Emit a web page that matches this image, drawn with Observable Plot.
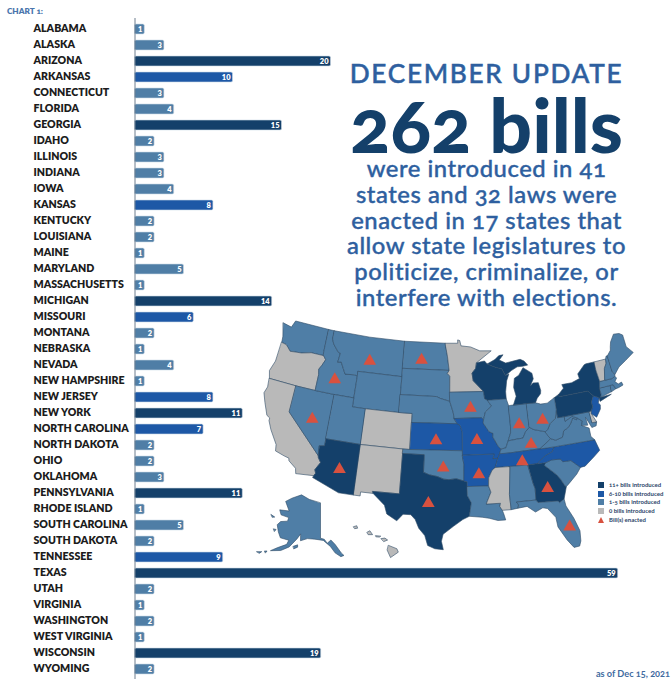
<!DOCTYPE html>
<html>
<head>
<meta charset="utf-8">
<script src="https://cdn.jsdelivr.net/npm/d3@7"></script>
<script src="https://cdn.jsdelivr.net/npm/@observablehq/plot@0.6"></script>
<style>
  html,body{margin:0;padding:0;background:#fff;}
  #page{position:relative;width:671px;height:679px;overflow:hidden;font-family:Lato,"Open Sans",sans-serif;}
  #page svg{position:absolute;background:transparent;font-family:inherit;}
  .t{position:absolute;white-space:nowrap;font-feature-settings:"onum" 1;}
  .c{left:486.5px;transform:translateX(-50%);}
</style>
</head>
<body>
<div id="page"></div>
<script>
const stateNames = ["ALABAMA","ALASKA","ARIZONA","ARKANSAS","CONNECTICUT","FLORIDA","GEORGIA","IDAHO","ILLINOIS","INDIANA","IOWA","KANSAS","KENTUCKY","LOUISIANA","MAINE","MARYLAND","MASSACHUSETTS","MICHIGAN","MISSOURI","MONTANA","NEBRASKA","NEVADA","NEW HAMPSHIRE","NEW JERSEY","NEW YORK","NORTH CAROLINA","NORTH DAKOTA","OHIO","OKLAHOMA","PENNSYLVANIA","RHODE ISLAND","SOUTH CAROLINA","SOUTH DAKOTA","TENNESSEE","TEXAS","UTAH","VIRGINIA","WASHINGTON","WEST VIRGINIA","WISCONSIN","WYOMING"];
const stateCodes = ["AL","AK","AZ","AR","CT","FL","GA","ID","IL","IN","IA","KS","KY","LA","ME","MD","MA","MI","MO","MT","NE","NV","NH","NJ","NY","NC","ND","OH","OK","PA","RI","SC","SD","TN","TX","UT","VA","WA","WV","WI","WY"];
const billCounts = [1,3,20,10,3,4,15,2,3,3,4,8,2,2,1,5,1,14,6,2,1,4,1,8,11,7,2,2,3,11,1,5,2,9,59,2,1,2,1,19,2];
// The source cuts the Texas bar short of scale; the label keeps the true 59.
const barCutOff = 49.3;
const tierBreaks = [1,6,11];
const tierColors = ["#b9b9b9","#4f7ea6","#1d58a6","#14406a"];
const legendLabels = ["11+ bills introduced","6-10 bills introduced","1-5 bills introduced","0 bills introduced","Bill(s) enacted"];
const legendColors = ["#14406a","#1d58a6","#4f7ea6","#b9b9b9"];
const enactedCodes = ["AZ","AR","FL","GA","ID","IA","IN","KS","KY","MO","MT","NV","ND","OH","OK","TN","TX"];
const enactedLon = [-111.5,-92.4,-81.2,-83.3,-114.5,-93.3,-86.2,-98.4,-84.8,-92.5,-109.5,-116.6,-101.1,-82.7,-97.3,-86.3,-99.2];
const enactedLat = [34.2,34.6,27.8,32.4,43.9,42,39.8,38.4,37.5,38.4,46.6,39.1,47.3,40,35.4,35.7,31.4];
const bodyLines = ["were introduced in 41","states and 32 laws were","enacted in 17 states that","allow state legislatures to","politicize, criminalize, or","interfere with elections."];

const outlines = {
WA:[[[-124.7,48.4],[-123.2,48.2],[-122.8,49],[-117.03,49],[-117.04,46.42],[-117,46],[-118.98,46],[-119.3,45.93],[-120.5,45.7],[-121.2,45.65],[-122.3,45.55],[-122.8,45.9],[-123.2,46.15],[-124,46.25],[-124.1,46.9]]],
OR:[[[-124,46.25],[-123.2,46.15],[-122.8,45.9],[-122.3,45.55],[-121.2,45.65],[-120.5,45.7],[-119.3,45.93],[-118.98,46],[-117,46],[-116.9,46],[-116.46,45.6],[-116.85,44.9],[-117.2,44.4],[-117.03,43.8],[-117.03,42],[-120,42],[-124.2,42],[-124.55,42.84],[-124.1,44]]],
CA:[[[-124.2,42],[-120,42],[-120,39],[-114.63,35],[-114.57,34.8],[-114.14,34.3],[-114.72,33.4],[-114.52,33.03],[-114.72,32.72],[-117.12,32.53],[-117.3,33.1],[-118.4,33.75],[-118.5,34.03],[-119.2,34.15],[-120.5,34.45],[-120.65,35.15],[-121.9,36.6],[-122.5,37.5],[-122.5,37.8],[-123,38],[-123.8,39.3],[-124.35,40.3],[-124.1,41]]],
NV:[[[-120,42],[-117.03,42],[-114.04,42],[-114.04,37],[-114.04,36.2],[-114.74,36.1],[-114.63,35],[-120,39]]],
ID:[[[-117.03,49],[-116.05,49],[-116.05,48],[-115.7,47.5],[-114.7,46.7],[-114.35,46.65],[-114.5,45.6],[-113.95,45.7],[-113.45,45.05],[-113,44.45],[-111.5,44.55],[-111.05,44.48],[-111.05,42],[-114.04,42],[-117.03,42],[-117.03,43.8],[-117.2,44.4],[-116.85,44.9],[-116.46,45.6],[-116.9,46],[-117,46],[-117.04,46.42]]],
MT:[[[-116.05,49],[-110,49],[-104.05,49],[-104.05,45.94],[-104.05,45],[-111.05,45],[-111.05,44.48],[-111.5,44.55],[-113,44.45],[-113.45,45.05],[-113.95,45.7],[-114.5,45.6],[-114.35,46.65],[-114.7,46.7],[-115.7,47.5],[-116.05,48]]],
WY:[[[-111.05,45],[-104.05,45],[-104.05,43],[-104.05,41],[-109.05,41],[-111.05,41],[-111.05,42],[-111.05,44.48]]],
UT:[[[-114.04,42],[-111.05,42],[-111.05,41],[-109.05,41],[-109.05,37],[-114.04,37]]],
CO:[[[-109.05,41],[-104.05,41],[-102.05,41],[-102.05,40],[-102.05,37],[-103,37],[-109.05,37]]],
AZ:[[[-114.74,36.1],[-114.04,36.2],[-114.04,37],[-109.05,37],[-109.05,31.33],[-111.07,31.33],[-114.81,32.5],[-114.72,32.72],[-114.52,33.03],[-114.72,33.4],[-114.14,34.3],[-114.57,34.8],[-114.63,35]]],
NM:[[[-109.05,37],[-103,37],[-103.04,36.5],[-103.06,32],[-106.62,32],[-106.53,31.78],[-108.2,31.78],[-108.2,31.33],[-109.05,31.33]]],
ND:[[[-104.05,49],[-97.23,49],[-96.85,47.5],[-96.56,45.94],[-104.05,45.94]]],
SD:[[[-104.05,45.94],[-96.56,45.94],[-96.85,45.6],[-96.45,45.3],[-96.45,43.5],[-96.44,42.49],[-97.9,42.8],[-98.5,43],[-104.05,43],[-104.05,45]]],
NE:[[[-104.05,43],[-98.5,43],[-97.9,42.8],[-96.44,42.49],[-96.1,41.7],[-95.9,41.2],[-95.77,40.58],[-95.31,40],[-102.05,40],[-102.05,41],[-104.05,41]]],
KS:[[[-102.05,40],[-95.31,40],[-94.9,39.8],[-94.61,39.1],[-94.62,37],[-102.05,37]]],
OK:[[[-103,37],[-102.05,37],[-94.62,37],[-94.62,36.5],[-94.43,35.4],[-94.48,33.64],[-95.5,33.9],[-96.5,33.8],[-97.2,33.85],[-98.1,34.13],[-99.2,34.3],[-100,34.56],[-100,36.5],[-103.04,36.5]]],
TX:[[[-106.62,32],[-103.06,32],[-103.04,36.5],[-100,36.5],[-100,34.56],[-99.2,34.3],[-98.1,34.13],[-97.2,33.85],[-96.5,33.8],[-95.5,33.9],[-94.48,33.64],[-94.04,33.55],[-94.04,33.02],[-94.04,32],[-93.55,31.2],[-93.85,29.7],[-94.7,29.35],[-95.9,28.6],[-97.2,27.7],[-97.4,26.9],[-97.15,25.96],[-98.2,26.05],[-99.1,26.4],[-99.5,27.5],[-100.3,28.3],[-100.8,29.25],[-101.4,29.77],[-102.4,29.77],[-103.15,28.98],[-104.5,29.65],[-104.9,30.6],[-106.53,31.78]]],
MN:[[[-97.23,49],[-95.15,49],[-95.15,49.38],[-94.8,49.3],[-94.6,48.7],[-93,48.55],[-91.5,48.07],[-89.6,48],[-92.1,46.75],[-92.3,46.1],[-92.9,45.6],[-92.75,44.75],[-91.2,43.5],[-96.45,43.5],[-96.45,45.3],[-96.85,45.6],[-96.56,45.94],[-96.85,47.5]]],
IA:[[[-96.45,43.5],[-91.2,43.5],[-91.1,42.7],[-90.64,42.5],[-90.15,41.8],[-91.1,41.2],[-91.42,40.38],[-91.73,40.6],[-95.77,40.58],[-95.9,41.2],[-96.1,41.7],[-96.44,42.49]]],
MO:[[[-95.77,40.58],[-91.73,40.6],[-91.42,40.38],[-91.5,40],[-90.7,39],[-90.15,38.8],[-90.2,38.4],[-89.5,37.3],[-89.15,37],[-89.4,36.5],[-89.7,36],[-90.37,36],[-90.15,36.5],[-94.62,36.5],[-94.62,37],[-94.61,39.1],[-94.9,39.8],[-95.31,40]]],
AR:[[[-94.62,36.5],[-90.15,36.5],[-90.37,36],[-89.7,36],[-90.1,35],[-90.6,34.7],[-91.1,33.9],[-91.17,33],[-94.04,33.02],[-94.04,33.55],[-94.48,33.64],[-94.43,35.4]]],
LA:[[[-94.04,33.02],[-91.17,33],[-90.9,32.3],[-91.6,31],[-89.73,31],[-89.85,30.65],[-89.55,30.2],[-89.4,29.8],[-89.2,29.1],[-90.2,29.1],[-91.3,29.4],[-92.2,29.55],[-93.85,29.7],[-93.55,31.2],[-94.04,32]]],
WI:[[[-92.1,46.75],[-90.8,46.9],[-90.4,46.55],[-89,46.1],[-88.1,45.9],[-87.6,45.1],[-87.05,45.25],[-87.5,44.5],[-87.8,43.3],[-87.8,42.5],[-90.64,42.5],[-91.1,42.7],[-91.2,43.5],[-92.75,44.75],[-92.9,45.6],[-92.3,46.1]]],
IL:[[[-90.64,42.5],[-87.8,42.5],[-87.53,41.72],[-87.53,39.35],[-87.6,38.7],[-88.05,37.85],[-88.45,37.1],[-89.15,37],[-89.5,37.3],[-90.2,38.4],[-90.15,38.8],[-90.7,39],[-91.5,40],[-91.42,40.38],[-91.1,41.2],[-90.15,41.8]]],
IN:[[[-87.53,41.72],[-87.2,41.75],[-86.8,41.76],[-84.8,41.76],[-84.8,39.1],[-85.4,38.7],[-85.9,38],[-86.8,37.95],[-88.05,37.85],[-87.6,38.7],[-87.53,39.35]]],
KY:[[[-89.4,36.5],[-89.15,37],[-88.45,37.1],[-88.05,37.85],[-86.8,37.95],[-85.9,38],[-85.4,38.7],[-84.8,39.1],[-84.2,38.8],[-83.6,38.65],[-82.6,38.4],[-81.97,37.54],[-83.68,36.6],[-88.07,36.5]]],
TN:[[[-89.7,36],[-89.4,36.5],[-88.07,36.5],[-83.68,36.6],[-81.68,36.59],[-82,36.1],[-83.1,35.75],[-84.32,35],[-85.6,34.98],[-88.2,35],[-90.1,35]]],
MS:[[[-90.1,35],[-88.2,35],[-88.1,34.9],[-88.47,31.9],[-88.4,30.2],[-89.55,30.2],[-89.85,30.65],[-89.73,31],[-91.6,31],[-90.9,32.3],[-91.17,33],[-91.1,33.9],[-90.6,34.7]]],
AL:[[[-88.2,35],[-85.6,34.98],[-85.18,32.87],[-85,32.3],[-85.05,31],[-87.6,31],[-87.4,30.65],[-87.5,30.3],[-88.4,30.2],[-88.47,31.9],[-88.1,34.9]]],
GA:[[[-85.6,34.98],[-84.32,35],[-83.1,35],[-83.35,34.7],[-81.9,33.5],[-81.5,33],[-81,32.1],[-80.85,32.03],[-81.4,30.71],[-82.05,30.36],[-82.2,30.57],[-84.86,30.7],[-85.05,31],[-85,32.3],[-85.18,32.87]]],
FL:[[[-87.6,31],[-85.05,31],[-84.86,30.7],[-82.2,30.57],[-82.05,30.36],[-81.4,30.71],[-81.3,29.9],[-80.55,28.4],[-80.05,26.9],[-80.15,25.75],[-80.4,25.2],[-81.1,25.15],[-81.8,26.1],[-82.7,27.7],[-82.8,28.8],[-83.7,29.9],[-84.3,30.05],[-85.3,29.68],[-86.3,30.4],[-87.5,30.3],[-87.4,30.65]]],
SC:[[[-83.1,35],[-82.3,35.2],[-81.05,35.15],[-80.8,34.82],[-79.67,34.8],[-78.55,33.86],[-79.2,33.2],[-80.45,32.3],[-80.85,32.03],[-81,32.1],[-81.5,33],[-81.9,33.5],[-83.35,34.7]]],
NC:[[[-84.32,35],[-83.1,35.75],[-82,36.1],[-81.68,36.59],[-75.87,36.55],[-75.5,35.3],[-76.5,34.7],[-77.9,33.9],[-78.55,33.86],[-79.67,34.8],[-80.8,34.82],[-81.05,35.15],[-82.3,35.2],[-83.1,35]]],
VA:[[[-83.68,36.6],[-81.97,37.54],[-81.3,37.3],[-80.3,37.5],[-79.95,38.2],[-79.3,38.42],[-78.85,38.77],[-78.35,39.4],[-77.83,39.13],[-77.72,39.32],[-77.05,38.85],[-77.3,38.4],[-76.3,37.95],[-76.3,37],[-75.87,36.55],[-81.68,36.59]]],
WV:[[[-82.6,38.4],[-82.2,38.6],[-81.75,39.2],[-80.85,39.7],[-80.52,40.64],[-80.52,39.72],[-79.48,39.72],[-79.48,39.2],[-78.4,39.6],[-77.72,39.32],[-77.83,39.13],[-78.35,39.4],[-78.85,38.77],[-79.3,38.42],[-79.95,38.2],[-80.3,37.5],[-81.3,37.3],[-81.97,37.54]]],
MD:[[[-79.48,39.72],[-75.79,39.72],[-75.7,38.46],[-75.05,38.45],[-75.25,38.03],[-75.9,37.95],[-76.2,38.6],[-76.5,39.2],[-76.4,38.3],[-77.3,38.4],[-77.05,38.85],[-77.72,39.32],[-78.4,39.6],[-79.48,39.2]]],
DE:[[[-75.79,39.72],[-75.45,39.8],[-75.55,39.45],[-75.05,38.45],[-75.7,38.46]]],
NJ:[[[-74.7,41.36],[-73.9,41],[-74.2,40.45],[-73.98,40.2],[-74.1,39.75],[-74.9,38.95],[-75.55,39.45],[-75.45,39.8],[-75.15,40.2],[-75.2,40.7]]],
PA:[[[-80.52,41.98],[-79.76,42.27],[-79.76,42],[-75.35,42],[-74.7,41.36],[-75.2,40.7],[-75.15,40.2],[-75.45,39.8],[-75.79,39.72],[-79.48,39.72],[-80.52,39.72],[-80.52,40.64]]],
NY:[[[-79.76,42.27],[-78.9,42.85],[-79.05,43.27],[-77.5,43.27],[-76.2,43.55],[-76.3,44.1],[-75,44.95],[-74.7,45],[-73.35,45],[-73.4,44],[-73.25,42.75],[-73.5,42.05],[-73.5,41.3],[-73.65,41],[-72,41.05],[-73.9,40.57],[-73.9,41],[-74.7,41.36],[-75.35,42],[-79.76,42]]],
CT:[[[-73.5,42.05],[-71.8,42.02],[-71.85,41.32],[-73.65,41],[-73.5,41.3]]],
RI:[[[-71.8,42.02],[-71.38,42.02],[-71.15,41.5],[-71.85,41.32]]],
MA:[[[-73.5,42.05],[-73.25,42.75],[-72.46,42.73],[-71.3,42.7],[-70.8,42.87],[-70.6,42.65],[-71,42.3],[-70.6,41.95],[-70.05,42.05],[-69.95,41.7],[-70.65,41.55],[-71.15,41.5],[-71.38,42.02],[-71.8,42.02]]],
VT:[[[-73.35,45],[-71.5,45],[-71.6,44.5],[-72.05,44],[-72.46,42.73],[-73.25,42.75],[-73.4,44]]],
NH:[[[-71.5,45],[-71.3,45.3],[-71.08,45.3],[-70.98,43.4],[-70.7,43.07],[-70.8,42.87],[-71.3,42.7],[-72.46,42.73],[-72.05,44],[-71.6,44.5]]],
ME:[[[-71.08,45.3],[-70.4,45.8],[-70.25,46.2],[-70,46.7],[-69.2,47.45],[-68.3,47.35],[-67.8,47.07],[-67.8,45.7],[-67,44.85],[-68.5,44.25],[-69.8,43.75],[-70.7,43.07],[-70.98,43.4]]],
OH:[[[-84.8,41.76],[-83.45,41.73],[-82.7,41.5],[-81.7,41.5],[-80.52,41.98],[-80.52,40.64],[-80.85,39.7],[-81.75,39.2],[-82.2,38.6],[-82.6,38.4],[-83.6,38.65],[-84.2,38.8],[-84.8,39.1]]],
MI:[[[-86.8,41.76],[-84.8,41.76],[-83.45,41.73],[-83.1,42.2],[-82.5,42.65],[-82.4,43],[-82.6,43.9],[-83.4,43.95],[-83.9,43.65],[-83.3,44.4],[-83.4,45.05],[-84.7,45.78],[-85.5,45],[-86.25,44.7],[-86.5,43.7],[-86.25,42.7]],
    [[-90.4,46.55],[-89.1,46.99],[-88.4,47.4],[-87.7,47.45],[-88.4,46.9],[-87.4,46.5],[-86,46.65],[-85,46.75],[-84.4,46.5],[-83.9,46],[-84.7,45.95],[-85.6,45.95],[-86.6,45.6],[-87.6,45.1],[-88.1,45.9],[-89,46.1]]],
AK:[[[-141,69.65],[-141,60.3],[-139,60],[-137.5,58.9],[-135.5,59.7],[-133.5,58.4],[-131,55.9],[-130,55.2],[-131.5,55],[-134,56.2],[-136,58],[-139.5,59.7],[-144,60],[-148,60],[-151.5,59.2],[-152,61],[-153.5,59.5],[-156.5,57],[-160,55.5],[-164.5,54.6],[-162,55.9],[-158,57.5],[-157.5,58.7],[-162,58.7],[-164,60],[-166,61.7],[-164.8,62.8],[-161,63.5],[-161,64.5],[-166,64.5],[-168,65.6],[-162,66.2],[-166.5,68.3],[-163,69.7],[-156.5,71.3],[-150,70.5]],
    [[-154.6,57.4],[-152.6,58],[-152.4,57.4],[-154,56.8]],
    [[-167,60.3],[-165.6,60.4],[-166,59.8]],
    [[-171.6,63.5],[-169,63.3],[-170.2,63]],
    [[-166.9,53.95],[-165.9,54.2],[-166.2,53.6]],
    [[-170,52.95],[-168,53.5],[-168.6,52.9]],
    [[-176.8,52],[-173,52.35],[-174,51.95]]],
HI:[[[-155.9,20.2],[-155,19.85],[-154.85,19.5],[-155.7,18.95],[-156.05,19.7]],
    [[-156.7,20.9],[-156.3,20.95],[-156,20.75],[-156.4,20.6]],
    [[-157.3,21.2],[-156.75,21.15],[-156.9,21.05],[-157.25,21.08]],
    [[-158.25,21.55],[-157.95,21.7],[-157.65,21.3],[-158.1,21.3]],
    [[-159.75,22.1],[-159.4,22.2],[-159.3,21.95],[-159.6,21.9]]]
};

const billsByCode = new Map(stateCodes.map((c,i)=>[c,billCounts[i]]));
const rows = stateNames.map((name,i)=>({name,bills:billCounts[i],drawn:Math.min(billCounts[i],barCutOff)}));
const features = Object.entries(outlines).map(([code,polys])=>{
  const coordinates = polys.map(ring=>{
    const closed = [...ring,ring[0]];
    return d3.geoArea({type:"Polygon",coordinates:[closed]})>2*Math.PI ? [closed.slice().reverse()] : [closed];
  });
  return {type:"Feature",properties:{code,bills:billsByCode.get(code)||0},geometry:{type:"MultiPolygon",coordinates}};
});
const enacted = enactedCodes.map((code,i)=>({code,lon:enactedLon[i],lat:enactedLat[i]}));
const tierScale = {type:"threshold",domain:tierBreaks,range:tierColors};

const page = document.getElementById("page");

const bars = Plot.plot({
  width:671,height:679,margin:0,
  x:{domain:[0,54.74],range:[134.5,671],axis:null},
  y:{domain:stateNames,range:[17.4,681.1],padding:0.38,axis:null},
  color:tierScale,
  marks:[
    Plot.barX(rows,{x:"drawn",y:"name",fill:"bills",rx:1.5,stroke:"#cfdce8",strokeWidth:0.6}),
    Plot.ruleX([0],{stroke:"#6f7f8f",strokeWidth:1,insetTop:18}),
    Plot.text(rows,{y:"name",text:"name",frameAnchor:"left",dx:33,dy:-0.5,textAnchor:"start",fontSize:10.6,fontWeight:800,fill:"#1c1c1c"}),
    Plot.text(rows,{x:"drawn",y:"name",text:"bills",textAnchor:"end",dx:-2.5,fontSize:7.5,fontWeight:800,fill:"#fff"})
  ]
});
bars.style.left="0";bars.style.top="0";
page.appendChild(bars);

const borderStyle = {stroke:"#2f4b66",strokeWidth:0.6};
function mapLayer(codes,projection,extraMarks=[]){
  const svg = Plot.plot({
    width:416,height:265,margin:0,projection:()=>projection,color:tierScale,
    marks:[Plot.geo(features.filter(f=>codes(f.properties.code)),{fill:d=>d.properties.bills,...borderStyle}),...extraMarks]
  });
  svg.style.left="255px";svg.style.top="315px";
  page.appendChild(svg);
}
mapLayer(c=>c==="AK",d3.geoAlbers().rotate([141,0]).center([0,65]).parallels([55,65]).scale(215).translate([65,205]));
mapLayer(c=>c==="HI",d3.geoAlbers().rotate([157,0]).center([0,20.5]).parallels([19,22]).scale(560).translate([123,227]));
mapLayer(c=>c!=="AK"&&c!=="HI",d3.geoAlbers().scale(512).translate([193,120]),
  [Plot.dot(enacted,{x:"lon",y:"lat",symbol:"triangle",r:4.7,dy:2.5,fill:"#d8513f"})]);

function addText(txt,css,cls="t"){
  const d=document.createElement("div");d.className=cls;d.textContent=txt;d.style.cssText=css;page.appendChild(d);return d;
}
addText("CHART 1:","left:7px;top:6px;font-size:8.2px;font-weight:800;color:#4a76ad;");
addText("as of Dec 15, 2021","right:1px;top:668px;font-size:9.2px;font-weight:700;color:#3f6b9f;");
addText("DECEMBER UPDATE","top:58px;font-size:26.2px;line-height:30px;font-weight:500;-webkit-text-stroke:0.5px #2e5f9f;letter-spacing:1.7px;color:#2e5f9f;","t c");
addText("262 bills","top:91.7px;font-size:75px;line-height:64px;font-weight:900;color:#14406a;","t c");
bodyLines.forEach((line,i)=>addText(line,`top:${156+i*25.75}px;font-size:23.8px;line-height:25px;letter-spacing:0.55px;font-weight:500;-webkit-text-stroke:0.4px #2e5f9f;color:#2e5f9f;`,"t c"));

legendLabels.forEach((label,i)=>{
  const y=482+i*8.65;
  const s=document.createElement("div");
  s.style.cssText = i<4
    ? `position:absolute;left:598px;top:${y}px;width:6px;height:6px;background:${legendColors[i]};`
    : `position:absolute;left:598px;top:${y}px;width:0;height:0;border-left:3px solid transparent;border-right:3px solid transparent;border-bottom:6px solid #d8513f;`;
  page.appendChild(s);
  addText(label,`left:609px;top:${y-1}px;font-size:6px;line-height:8px;font-weight:700;color:#2b4468;`);
});
</script>
</body>
</html>
